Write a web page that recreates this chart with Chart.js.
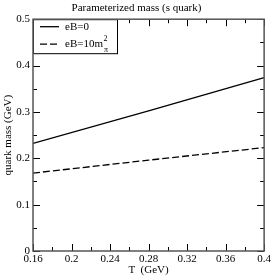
<!DOCTYPE html>
<html><head><meta charset="utf-8">
<script src="https://cdn.jsdelivr.net/npm/chart.js@4/dist/chart.umd.min.js"></script>
<style>html,body{margin:0;padding:0;background:#fff}#wrap{width:273px;height:277px}</style>
</head><body><div id="wrap"><canvas id="c"></canvas></div>
<script>
const temps = [0.16, 0.28, 0.4];
const massEB0 = [0.232, 0.302, 0.374];
const massEB10 = [0.168, 0.196, 0.223];
const seriesLabels = ['eB=0', 'eB=10m'];
const xTicks = [0.16, 0.2, 0.24, 0.28, 0.32, 0.36, 0.4];
const yTicks = [0, 0.1, 0.2, 0.3, 0.4, 0.5];
const FONT = '"Liberation Serif", "DejaVu Serif", serif';

const framePlugin = {
  id: 'frame',
  afterDraw(chart) {
    const {ctx, chartArea: a, scales: {x, y}} = chart;
    ctx.save();
    ctx.strokeStyle = '#000';
    ctx.lineWidth = 1;
    const maj = 7, min = 4;
    ctx.beginPath();
    xTicks.forEach((v, i) => {
      const px = Math.round(x.getPixelForValue(v)) + 0.5;
      ctx.moveTo(px, a.bottom); ctx.lineTo(px, a.bottom - maj);
      ctx.moveTo(px, a.top); ctx.lineTo(px, a.top + maj);
      if (i < xTicks.length - 1) {
        const m = Math.round(x.getPixelForValue((v + xTicks[i + 1]) / 2)) + 0.5;
        ctx.moveTo(m, a.bottom); ctx.lineTo(m, a.bottom - min);
        ctx.moveTo(m, a.top); ctx.lineTo(m, a.top + min);
      }
    });
    yTicks.forEach((v, i) => {
      const py = Math.round(y.getPixelForValue(v)) + 0.5;
      ctx.moveTo(a.left, py); ctx.lineTo(a.left + maj, py);
      ctx.moveTo(a.right, py); ctx.lineTo(a.right - maj, py);
      if (i < yTicks.length - 1) {
        const m = Math.round(y.getPixelForValue((v + yTicks[i + 1]) / 2)) + 0.5;
        ctx.moveTo(a.left, m); ctx.lineTo(a.left + min, m);
        ctx.moveTo(a.right, m); ctx.lineTo(a.right - min, m);
      }
    });
    ctx.stroke();
    // legend
    const lx = a.left, ly = a.top, lw = 84, lh = 34;
    ctx.fillStyle = '#fff';
    ctx.fillRect(lx, ly, lw, lh);
    ctx.strokeStyle = '#000';
    ctx.lineWidth = 1;
    ctx.strokeRect(lx + 0.5, ly + 0.5, lw, lh);
    chart.data.datasets.forEach((ds, i) => {
      const yy = ly + 7.5 + i * 17.5;
      ctx.beginPath();
      ctx.setLineDash(ds.borderDash || []);
      ctx.lineWidth = ds.borderWidth;
      ctx.strokeStyle = ds.borderColor;
      ctx.moveTo(lx + 7, yy); ctx.lineTo(lx + 26, yy);
      ctx.stroke();
      ctx.setLineDash([]);
      ctx.fillStyle = '#000';
      ctx.font = '11px ' + FONT;
      ctx.textBaseline = 'middle';
      ctx.textAlign = 'left';
      const tx = lx + 32;
      ctx.fillText(seriesLabels[i], tx, yy);
      if (i === 1) {
        const w = ctx.measureText(seriesLabels[i]).width;
        ctx.font = '8px ' + FONT;
        ctx.fillText('2', tx + w + 0.5, yy - 5);
        ctx.fillText('π', tx + w + 1, yy + 6);
      }
    });
    // outer frame
    ctx.strokeStyle = '#555';
    ctx.lineWidth = 1.5;
    ctx.strokeRect(a.left, a.top, a.right - a.left, a.bottom - a.top);
    ctx.restore();
  }
};

new Chart(document.getElementById('c'), {
  type: 'line',
  data: {
    datasets: [
      { label: seriesLabels[0], data: temps.map((t, i) => ({x: t, y: massEB0[i]})),
        borderColor: '#000', borderWidth: 1.3, pointRadius: 0, fill: false, tension: 0 },
      { label: seriesLabels[1], data: temps.map((t, i) => ({x: t, y: massEB10[i]})),
        borderColor: '#000', borderWidth: 1.3, borderDash: [7, 3], pointRadius: 0, fill: false, tension: 0 }
    ]
  },
  options: {
    responsive: true, maintainAspectRatio: false, animation: false,
    layout: { padding: { left: 0, right: 0, top: 0, bottom: 0 } },
    plugins: {
      legend: { display: false }, tooltip: { enabled: false },
      title: { display: true, text: 'Parameterized mass (s quark)', color: '#000',
        font: { family: FONT, size: 11, weight: 'normal' }, padding: { top: 2, bottom: 4 } }
    },
    scales: {
      x: { type: 'linear', min: 0.16, max: 0.4,
        afterBuildTicks: s => { s.ticks = xTicks.map(v => ({value: v})); },
        afterFit: s => { s.height = 26; },
        grid: { display: false, drawTicks: false }, border: { display: false },
        ticks: { color: '#000', padding: 2, maxRotation: 0, autoSkip: false,
          font: { family: FONT, size: 11 }, callback: v => String(+v.toFixed(2)) },
        title: { display: true, text: 'T  (GeV)', color: '#000', padding: { top: 0, bottom: 0 },
          font: { family: FONT, size: 11 } } },
      y: { min: 0, max: 0.5,
        afterBuildTicks: s => { s.ticks = yTicks.map(v => ({value: v})); },
        afterFit: s => { s.width = 33; },
        grid: { display: false, drawTicks: false }, border: { display: false },
        ticks: { color: '#000', padding: 3, autoSkip: false,
          font: { family: FONT, size: 11 }, callback: v => String(+v.toFixed(1)) },
        title: { display: true, text: 'quark mass (GeV)', color: '#000', padding: { top: 2, bottom: 0 },
          font: { family: FONT, size: 11 } } }
    }
  },
  plugins: [framePlugin]
});
</script></body></html>
